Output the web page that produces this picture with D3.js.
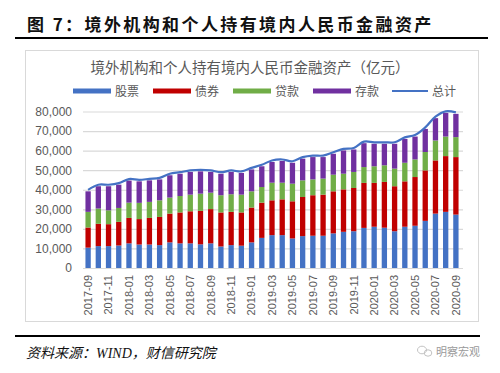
<!DOCTYPE html>
<html>
<head>
<meta charset="utf-8">
<script src="https://cdn.jsdelivr.net/npm/d3@7"></script>
<style>
  body { margin: 0; background: #fff; }
  svg { display: block; }
</style>
</head>
<body>
<div id="dataviz"></div>
<script>
// monthly, 2017-09 .. 2020-09 (亿元)
const months = ["2017-09","2017-10","2017-11","2017-12","2018-01","2018-02","2018-03","2018-04","2018-05","2018-06","2018-07","2018-08","2018-09","2018-10","2018-11","2018-12","2019-01","2019-02","2019-03","2019-04","2019-05","2019-06","2019-07","2019-08","2019-09","2019-10","2019-11","2019-12","2020-01","2020-02","2020-03","2020-04","2020-05","2020-06","2020-07","2020-08","2020-09"];
const stocks   = [10400,11200,11200,11500,12600,12000,12000,11700,13100,12600,12600,12100,12600,11000,11700,11400,13100,15400,16800,16800,15100,16300,16500,16500,17700,18500,18800,20500,21100,20600,18800,21100,21600,24100,27800,28700,27300];
const bonds    = [10300,11400,11200,12100,13000,13000,13600,14400,14700,15800,16400,17100,17500,17400,17000,17000,17800,18000,17800,18300,19000,20000,20700,21000,21500,21700,22100,23000,22400,23400,23000,23200,24900,25800,27200,28500,29400];
const loans    = [8000,7800,7100,7100,7800,8300,8200,8500,8200,8400,8500,8800,8400,8800,9000,9100,8300,8000,9000,8500,9000,8500,8100,8200,8500,8000,8200,8100,8500,8500,9000,9500,9000,9400,10200,10000,10200];
const deposits = [10500,11400,12300,11900,11300,11000,11000,10700,11400,11400,11600,11400,10600,11000,11400,11100,11200,10600,10600,11100,10700,11100,11400,11000,10700,11900,11500,12200,11500,11000,12700,12200,11700,11800,11400,12100,11900];
const seriesNames = ["股票","债券","贷款","存款"];
const yTicks = [0,10000,20000,30000,40000,50000,60000,70000,80000];

const colors = ["#4472C4","#C00000","#70AD47","#7030A0"];
const lineColor = "#4472C4";
const textColor = "#595959";
const sans = "'Noto Sans CJK SC','Noto Sans',sans-serif";

const buildChart = () => {
  const width = 500, height = 373;
  const plot = { left: 83, right: 461, top: 111.5, bottom: 268 };

  const svg = d3.select("#dataviz").append("svg")
    .attr("width", width).attr("height", height);

  svg.append("rect").attr("width", width).attr("height", height).attr("fill", "#fff");

  // figure caption + rules
  svg.append("text")
    .attr("x", 27).attr("y", 31)
    .attr("font-family", sans).attr("font-weight", "bold")
    .attr("font-size", "17px").attr("letter-spacing", "2.4px")
    .attr("fill", "#111")
    .text("图 7：境外机构和个人持有境内人民币金融资产");
  svg.append("line").attr("x1", 15).attr("x2", 488).attr("y1", 38).attr("y2", 38)
    .attr("stroke", "#000").attr("stroke-width", 2);

  // chart frame
  svg.append("rect").attr("x", 25.5).attr("y", 50.5).attr("width", 453).attr("height", 271)
    .attr("fill", "none").attr("stroke", "#d9d9d9");

  svg.append("text")
    .attr("x", 250).attr("y", 73)
    .attr("text-anchor", "middle")
    .attr("font-family", sans).attr("font-size", "14.5px")
    .attr("fill", textColor)
    .text("境外机构和个人持有境内人民币金融资产（亿元）");

  // scales
  const x = d3.scaleBand().domain(months).range([plot.left, plot.right]).paddingInner(0.48).paddingOuter(0.24);
  const y = d3.scaleLinear().domain([0, 80000]).range([plot.bottom, plot.top]);

  // gridlines + y labels
  const yAxis = d3.axisLeft(y).tickValues(yTicks).tickSize(-(plot.right - plot.left + 2))
    .tickFormat(d3.format(",")).tickPadding(11);
  const gy = svg.append("g").attr("transform", `translate(${plot.left},0)`).call(yAxis);
  gy.select(".domain").remove();
  gy.selectAll(".tick line").attr("stroke", "#d9d9d9").attr("stroke-width", 1.2);
  gy.selectAll(".tick text").attr("font-family", "'Liberation Sans',Arial,sans-serif")
    .attr("font-size", "12px").attr("fill", textColor);

  // stacked bars
  const rows = months.map((m, i) => ({ month: m, s0: stocks[i], s1: bonds[i], s2: loans[i], s3: deposits[i] }));
  const stack = d3.stack().keys(["s0","s1","s2","s3"])(rows);

  svg.append("g").selectAll("g")
    .data(stack).join("g")
    .attr("fill", (d, i) => colors[i])
    .selectAll("rect")
    .data(d => d).join("rect")
    .attr("x", d => x(d.data.month))
    .attr("width", x.bandwidth())
    .attr("y", d => y(d[1]))
    .attr("height", d => y(d[0]) - y(d[1]));

  // total line (smoothed like Excel)
  const totals = rows.map(r => ({ month: r.month, v: r.s0 + r.s1 + r.s2 + r.s3 }));
  const line = d3.line()
    .x(d => x(d.month) + x.bandwidth() / 2)
    .y(d => y(d.v) - 1.5)
    .curve(d3.curveCatmullRom.alpha(0.5));
  svg.append("path").datum(totals)
    .attr("d", line).attr("fill", "none")
    .attr("stroke", lineColor).attr("stroke-width", 2.2);

  // x labels, every second month, rotated
  const xAxis = d3.axisBottom(x).tickValues(months.filter((m, i) => i % 2 === 0)).tickSize(0);
  const gx = svg.append("g").attr("transform", `translate(0,${plot.bottom})`).call(xAxis);
  gx.select(".domain").remove();
  gx.selectAll(".tick text")
    .attr("font-family", "'Liberation Sans',Arial,sans-serif")
    .attr("font-size", "11px").attr("fill", textColor)
    .attr("text-anchor", "end")
    .attr("transform", "translate(0,0) rotate(-90)")
    .attr("x", -7).attr("y", 0).attr("dy", "0.35em");

  // legend
  const legend = svg.append("g").attr("font-family", sans).attr("font-size", "12px").attr("fill", textColor);
  const swatchX = [73, 153, 233, 313];
  seriesNames.forEach((name, i) => {
    legend.append("rect").attr("x", swatchX[i]).attr("y", 88.5).attr("width", 38).attr("height", 5).attr("fill", colors[i]);
    legend.append("text").attr("x", swatchX[i] + 42).attr("y", 95.5).text(name);
  });
  legend.append("line").attr("x1", 392).attr("x2", 428).attr("y1", 91).attr("y2", 91)
    .attr("stroke", lineColor).attr("stroke-width", 2.2);
  legend.append("text").attr("x", 432).attr("y", 95.5).text("总计");

  // source + rule
  svg.append("line").attr("x1", 15).attr("x2", 480).attr("y1", 336).attr("y2", 336)
    .attr("stroke", "#000").attr("stroke-width", 2);
  svg.append("text")
    .attr("x", 26).attr("y", 358)
    .attr("font-family", "'Liberation Serif','Noto Sans CJK SC',serif")
    .attr("font-style", "italic").attr("font-size", "14px")
    .attr("fill", "#111")
    .text("资料来源：WIND，财信研究院");

  // watermark
  const wm = svg.append("g").attr("fill", "#b5b5b5");
  wm.append("ellipse").attr("cx", 422).attr("cy", 350).attr("rx", 4.5).attr("ry", 3.8).attr("fill", "none").attr("stroke", "#c3c3c3");
  wm.append("ellipse").attr("cx", 428).attr("cy", 353).attr("rx", 3.8).attr("ry", 3.2).attr("fill", "none").attr("stroke", "#c3c3c3");
  wm.append("text").attr("x", 436).attr("y", 356)
    .attr("font-family", sans).attr("font-size", "11px").attr("fill", "#9a9a9a")
    .text("明察宏观");
};

document.addEventListener("DOMContentLoaded", buildChart);
</script>
</body>
</html>
